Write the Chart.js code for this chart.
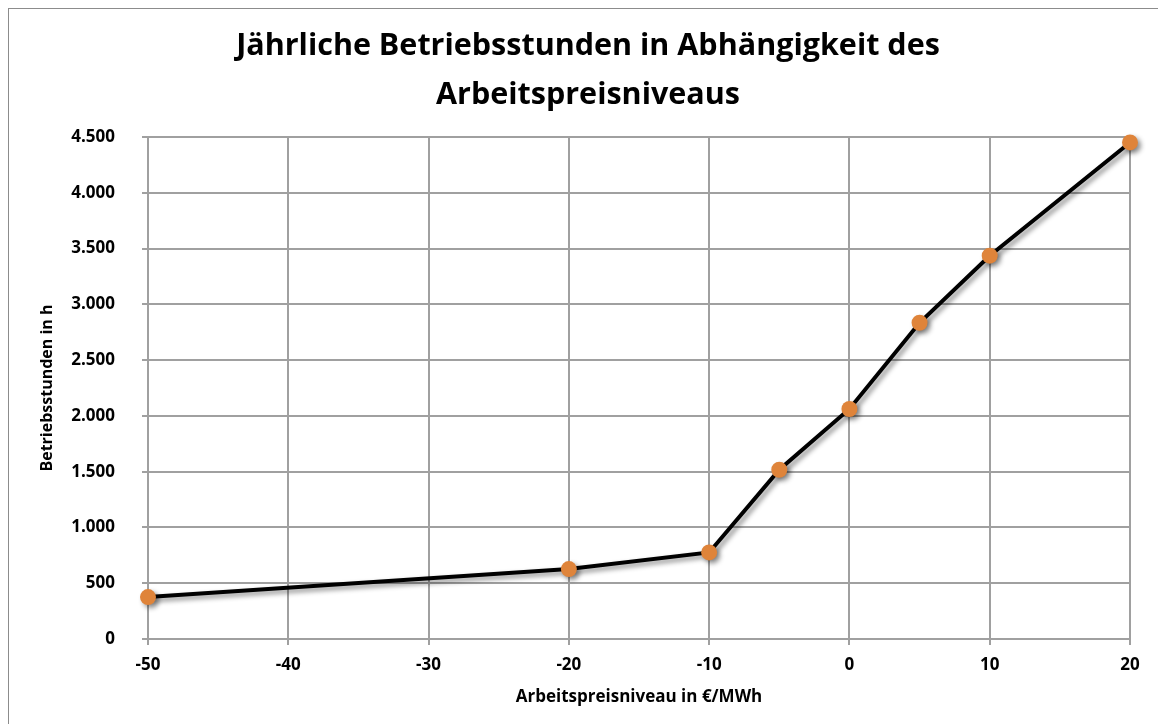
<!DOCTYPE html>
<html lang="de">
<head>
<meta charset="utf-8">
<title>Betriebsstunden</title>
<script src="https://cdn.jsdelivr.net/npm/chart.js@4.4.0/dist/chart.umd.min.js"></script>
<style>
  html, body { margin: 0; padding: 0; background: #fff; }
  #wrap { width: 1158px; height: 724px; }
</style>
</head>
<body>
<div id="wrap"><canvas id="chart" width="1158" height="724"></canvas></div>
<script>
"use strict";

// Arbeitspreis in €/MWh und zugehörige Betriebsstunden pro Jahr
const preise = [-50, -20, -10, -5, 0, 5, 10, 20];
const stunden = [376, 627, 776, 1517, 2062, 2835, 3436, 4451];

const titel = ['Jährliche Betriebsstunden in Abhängigkeit des', 'Arbeitspreisniveaus'];
const xTitel = 'Arbeitspreisniveau in €/MWh';
const yTitel = 'Betriebsstunden in h';

const schrift = '"Open Sans", "DejaVu Sans", sans-serif';

// Tausenderpunkt wie in Excel (4.500)
const tausender = (v) => String(v).replace(/\B(?=(\d{3})+(?!\d))/g, '.');

// Rahmen links/oben um das ganze Diagramm
const rahmen = {
  id: 'rahmen',
  beforeDraw(chart) {
    const ctx = chart.ctx;
    ctx.save();
    ctx.strokeStyle = '#8c8c8c';
    ctx.lineWidth = 1;
    ctx.strokeRect(8.5, 8.5, chart.width + 20, chart.height + 20);
    ctx.restore();
  }
};

// zweizeiliger Titel, etwas rechts von der Mitte wie bei Excel
const ueberschrift = {
  id: 'ueberschrift',
  afterDraw(chart) {
    const ctx = chart.ctx;
    ctx.save();
    ctx.fillStyle = '#000';
    ctx.font = 'bold 30.5px ' + schrift;
    ctx.textAlign = 'center';
    ctx.textBaseline = 'alphabetic';
    titel.forEach((zeile, i) => ctx.fillText(zeile, 588, 55 + i * 49));
    ctx.restore();
  }
};

// Schatten unter Linie und Punkten
const schatten = {
  id: 'schatten',
  beforeDatasetsDraw(chart) {
    const ctx = chart.ctx;
    ctx.save();
    ctx.shadowColor = 'rgba(0, 0, 0, 0.45)';
    ctx.shadowBlur = 5;
    ctx.shadowOffsetX = 3;
    ctx.shadowOffsetY = 3;
  },
  afterDatasetsDraw(chart) {
    chart.ctx.restore();
  }
};

const punkte = preise.map((p, i) => ({ x: p, y: stunden[i] }));

new Chart(document.getElementById('chart'), {
  type: 'line',
  data: {
    datasets: [{
      label: yTitel,
      data: punkte,
      borderColor: '#000',
      borderWidth: 4,
      pointRadius: 8,
      pointHoverRadius: 8,
      pointBackgroundColor: '#DF843A',
      pointBorderWidth: 0,
      tension: 0,
      clip: false
    }]
  },
  options: {
    responsive: false,
    animation: false,
    events: [],
    layout: { padding: { left: 20, right: 28, top: 137, bottom: 8 } },
    plugins: {
      legend: { display: false },
      tooltip: { enabled: false },
      title: { display: false }
    },
    scales: {
      x: {
        type: 'linear',
        min: -50,
        max: 20,
        afterFit: (s) => { s.height = 77; },
        ticks: {
          stepSize: 10,
          color: '#000',
          padding: 10,
          font: { family: schrift, size: 17, weight: 'bold' }
        },
        grid: { color: '#a0a0a0', lineWidth: 2, tickLength: 6 },
        border: { color: '#a0a0a0', width: 2 },
        title: {
          display: true,
          text: xTitel,
          color: '#000',
          font: { family: schrift, size: 17, weight: 'bold' },
          padding: { top: 0, bottom: 9 }
        }
      },
      y: {
        min: 0,
        max: 4500,
        afterFit: (s) => { s.width = 128; },
        ticks: {
          stepSize: 500,
          color: '#000',
          padding: 27,
          font: { family: schrift, size: 17, weight: 'bold' },
          callback: (v) => tausender(v)
        },
        grid: { color: '#a0a0a0', lineWidth: 2, tickLength: 6 },
        border: { color: '#a0a0a0', width: 2 },
        title: {
          display: true,
          text: yTitel,
          color: '#000',
          font: { family: schrift, size: 16, weight: 'bold' },
          padding: { top: 18, bottom: 0 }
        }
      }
    }
  },
  plugins: [rahmen, schatten, ueberschrift]
});
</script>
</body>
</html>
